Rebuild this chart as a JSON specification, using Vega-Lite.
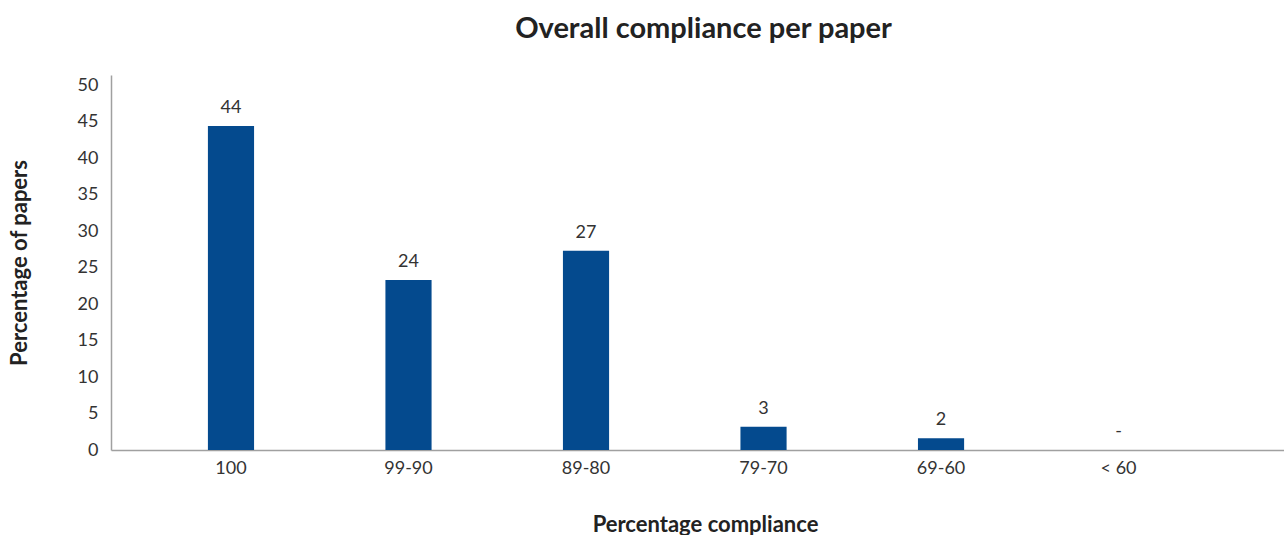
{
  "$schema": "https://vega.github.io/schema/vega-lite/v6.json",
  "width": 1173,
  "height": 375,
  "autosize": {"type": "none"},
  "padding": {"left": 111, "top": 75, "right": 0, "bottom": 85},
  "background": "white",
  "config": {
    "view": {"stroke": null},
    "font": "Lato"
  },
  "title": {
    "text": "Overall compliance per paper",
    "font": "Lato",
    "fontSize": 29,
    "fontWeight": "bold",
    "color": "#222222",
    "anchor": "middle",
    "frame": "group",
    "dx": 6,
    "baseline": "alphabetic",
    "offset": 8
  },
  "data": {
    "values": [
      {"range": "100", "pct": 44.4, "label": "44"},
      {"range": "99-90", "pct": 23.3, "label": "24"},
      {"range": "89-80", "pct": 27.3, "label": "27"},
      {"range": "79-70", "pct": 3.2, "label": "3"},
      {"range": "69-60", "pct": 1.6, "label": "2"},
      {"range": "< 60", "pct": 0, "label": "-"}
    ]
  },
  "encoding": {
    "x": {
      "field": "range",
      "type": "nominal",
      "sort": null,
      "scale": {"paddingInner": 0.74, "paddingOuter": 0.674, "align": 0.405},
      "axis": {
        "title": "Percentage compliance",
        "titleFont": "Lato",
        "titleFontSize": 22,
        "titleFontWeight": "bold",
        "titleColor": "#222222",
        "titleX": 594,
        "titleY": 81,
        "titleBaseline": "alphabetic",
        "titleAnchor": "middle",
        "labelAngle": 0,
        "labelFontSize": 18,
        "labelColor": "#333333",
        "labelPadding": 9,
        "labelOverlap": false,
        "ticks": false,
        "tickSize": 0,
        "domainColor": "#a0a0a0",
        "domainWidth": 1.5,
        "grid": false
      }
    },
    "y": {
      "field": "pct",
      "type": "quantitative",
      "scale": {"domain": [0, 51.4], "nice": false},
      "axis": {
        "title": "Percentage of papers",
        "titleFont": "Lato",
        "titleFontSize": 22,
        "titleFontWeight": "bold",
        "titleColor": "#222222",
        "titleX": -92,
        "titleY": 187.5,
        "titleAngle": -90,
        "titleBaseline": "middle",
        "titleAnchor": "middle",
        "values": [0, 5, 10, 15, 20, 25, 30, 35, 40, 45, 50],
        "tickCount": 11,
        "labelOverlap": false,
        "labelFontSize": 18,
        "labelColor": "#333333",
        "labelPadding": 13,
        "ticks": false,
        "tickSize": 0,
        "domainColor": "#a0a0a0",
        "domainWidth": 1.5,
        "grid": false
      }
    }
  },
  "layer": [
    {
      "mark": {"type": "bar", "color": "#044a8e"}
    },
    {
      "mark": {"type": "text", "baseline": "alphabetic", "dy": -13, "fontSize": 18, "color": "#333333"},
      "encoding": {
        "text": {"field": "label"}
      }
    }
  ]
}
